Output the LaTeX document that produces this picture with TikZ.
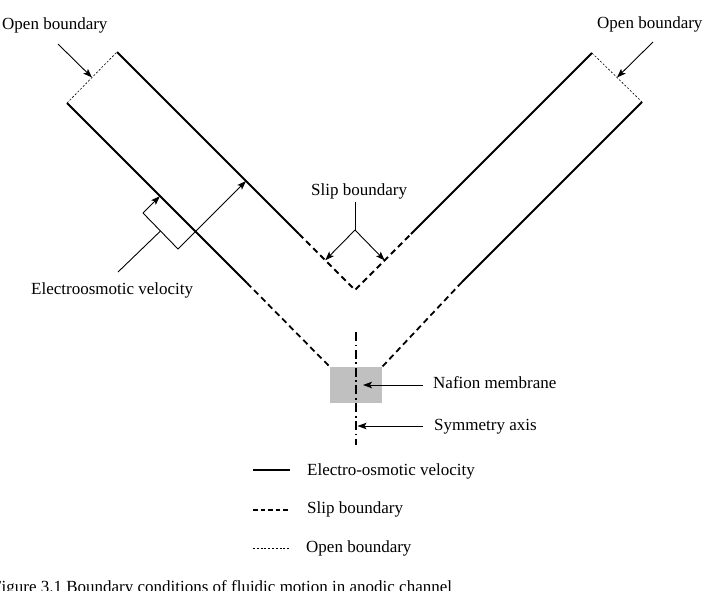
\documentclass[tikz,border=0pt]{standalone}
\usepackage{fontspec}
\setmainfont{Liberation Serif}
\usetikzlibrary{arrows.meta,calc}
\begin{document}
\begin{tikzpicture}[x=1pt,y=-1pt,
  wall/.style={line width=1.8pt},
  slip/.style={line width=1.8pt, dash pattern=on 6pt off 4pt},
  openb/.style={line width=0.6pt, dash pattern=on 2pt off 1.8pt},
  thinline/.style={line width=0.9pt},
  pointer/.style={line width=0.9pt, -{Stealth[length=9pt,width=6.5pt,inset=2pt]}},
  lbl/.style={font=\fontsize{17}{20}\selectfont, inner sep=0pt, anchor=base west},
  symaxis/.style={line width=1.8pt, dash pattern=on 9pt off 3.5pt on 1.8pt off 3.5pt}
]
\useasboundingbox (0,0) rectangle (709,590);

% membrane
\node[draw=none, fill={rgb,255:red,192;green,192;blue,192}, minimum width=52pt, minimum height=36pt, inner sep=0pt] (mem) at (356,385) {};

% channel corner points
\coordinate (A) at (67,103);
\coordinate (B) at (117,52);
\coordinate (V) at (355,290);
\coordinate (C) at (592,53);
\coordinate (D) at (642,102);
\coordinate (LOt) at (247,283);
\coordinate (LIt) at (299,234);
\coordinate (RIt) at (411,234);
\coordinate (ROt) at (462,282);

% walls
\draw[wall] (A) -- (LOt);
\draw[slip] (LOt) -- (mem.north west);
\draw[wall] (B) -- (LIt);
\draw[slip] (LIt) -- (V) -- (RIt);
\draw[wall] (RIt) -- (C);
\draw[wall] (D) -- (ROt);
\draw[slip] (ROt) -- (mem.north east);
\draw[openb] (A) -- (B);
\draw[openb] (C) -- (D);

% symmetry axis
\coordinate (ax1) at (356,332);
\coordinate (ax2) at (356,445);
\draw[symaxis] (ax1) -- (ax2);

% labels
\node[lbl] (obl) at (2,29) {Open boundary};
\node[lbl] (obr) at (597,28) {Open boundary};
\node[lbl] (slipl) at (311,195) {Slip boundary};
\node[lbl] (eol) at (31,294) {Electroosmotic velocity};
\node[lbl] (nafl) at (433,388) {Nafion membrane};
\node[lbl] (syml) at (434,430) {Symmetry axis};

% open boundary pointers
\coordinate (oblt) at (58,44);
\coordinate (obrt) at (653,42);
\draw[pointer] (oblt) -- ($(A)!0.5!(B)$);
\draw[pointer] (obrt) -- ($(C)!0.5!(D)$);

% slip boundary pointer
\coordinate (s1) at (355,202);
\coordinate (s2) at (355,230);
\draw[thinline] (s1) -- (s2);
\draw[pointer] (s2) -- ($(B)!0.875!(V)$);
\draw[pointer] (s2) -- ($(C)!0.875!(V)$);

% electroosmotic velocity
\coordinate (P1) at (143,213);
\coordinate (P2) at (178,249);
\coordinate (eot) at (118,272);
\draw[thinline] (P1) -- (P2);
\draw[pointer] (P1) -- ($(A)!(P1)!(mem.north west)$);
\draw[pointer] (P2) -- ($(B)!(P2)!(V)$);
\draw[thinline] (eot) -- ($(P1)!0.5!(P2)$);

% nafion and symmetry pointers
\coordinate (nt) at (423,385);
\coordinate (st) at (423,426);
\draw[pointer] (nt) -- (363,385);
\draw[pointer] (st) -- (357.5,426);

% legend
\coordinate (l1a) at (253,470); \coordinate (l1b) at (290,470);
\coordinate (l2a) at (253,510); \coordinate (l2b) at (290,510);
\coordinate (l3a) at (253,548); \coordinate (l3b) at (290,548);
\draw[wall] (l1a) -- (l1b);
\draw[line width=1.8pt, dash pattern=on 4.5pt off 3pt] (l2a) -- (l2b);
\draw[openb] (l3a) -- (l3b);
\node[lbl] (lg1) at (307,475) {Electro-osmotic velocity};
\node[lbl] (lg2) at (307,513) {Slip boundary};
\node[lbl] (lg3) at (306,552) {Open boundary};

% caption
\node[lbl] (cap) at (-8,592) {Figure 3.1 Boundary conditions of fluidic motion in anodic channel};
\end{tikzpicture}
\end{document}
